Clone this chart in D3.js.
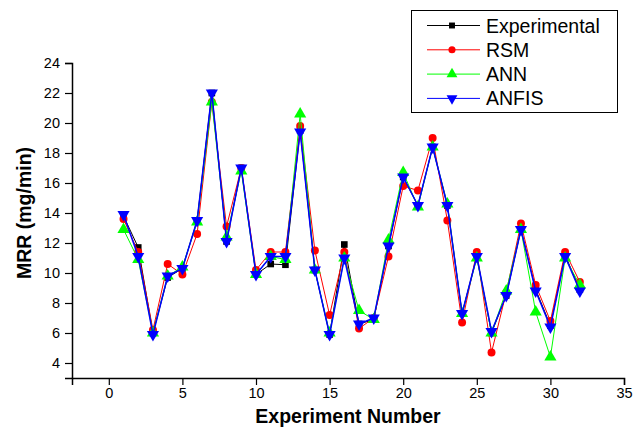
<!DOCTYPE html>
<html lang="en">
  <head>
    <meta charset="UTF-8" />
    <title>MRR vs Experiment Number</title>
    <style>
      html, body {
        margin: 0;
        background: #ffffff;
      }
      svg text {
        font-family: "Liberation Sans", Arial, sans-serif;
      }
    </style>
    <script src="https://cdn.jsdelivr.net/npm/d3@7"></script>
  </head>
  <body>
    <div id="chart"></div>
    <script>
      // experiment runs 1..32
      const runs = d3.range(1, 33);

      const experimental = [13.8, 11.7, 6.0, 9.7, 10.3, 13.5, 22.0, 12.1, 17.0, 9.9,
        10.6, 10.55, 19.5, 10.2, 5.9, 11.9, 6.6, 6.9, 11.8, 16.4,
        14.5, 18.4, 14.5, 7.3, 11.1, 6.0, 8.5, 12.9, 8.9, 6.5, 11.2, 8.9];
      const rsm = [13.6, 11.4, 6.2, 10.6, 9.9, 12.6, 21.4, 13.1, 17.0, 10.2,
        11.4, 11.4, 19.8, 11.5, 7.2, 11.4, 6.3, 7.0, 11.1, 15.8,
        15.5, 19.0, 13.5, 6.7, 11.4, 4.7, 8.7, 13.3, 9.2, 6.8, 11.4, 9.4];
      const ann = [12.9, 10.9, 6.0, 9.8, 10.4, 13.4, 21.4, 12.4, 16.8, 9.9,
        11.1, 10.9, 20.6, 10.2, 6.0, 11.0, 7.5, 6.9, 12.2, 16.7,
        14.4, 18.4, 14.6, 7.3, 11.0, 6.0, 8.8, 12.9, 7.4, 4.4, 11.0, 9.2];
      const anfis = [13.9, 11.1, 5.9, 9.8, 10.3, 13.5, 22.0, 12.1, 17.0, 9.9,
        11.1, 11.1, 19.4, 10.2, 5.9, 11.0, 6.6, 7.0, 11.8, 16.4,
        14.5, 18.4, 14.5, 7.3, 11.1, 6.1, 8.5, 12.9, 8.8, 6.4, 11.1, 8.8];

      const seriesNames = ["Experimental", "RSM", "ANN", "ANFIS"];
      const xTicks = [0, 5, 10, 15, 20, 25, 30, 35];
      const yTicks = [4, 6, 8, 10, 12, 14, 16, 18, 20, 22, 24];

      const series = [
        { name: seriesNames[0], values: experimental, color: "#000000", symbol: d3.symbolSquare, size: 44, width: 1, rot: 0 },
        { name: seriesNames[1], values: rsm, color: "#ff0000", symbol: d3.symbolCircle, size: 50, width: 1, rot: 0 },
        { name: seriesNames[2], values: ann, color: "#00ff00", symbol: d3.symbolTriangle, size: 64, width: 1, rot: 0 },
        { name: seriesNames[3], values: anfis, color: "#0000ff", symbol: d3.symbolTriangle, size: 64, width: 1.5, rot: 180 },
      ];

      const width = 644, height = 427;
      const margin = { top: 63, right: 20, bottom: 49, left: 72 };

      const svg = d3.select("#chart").append("svg")
        .attr("width", width)
        .attr("height", height);

      const x = d3.scaleLinear().domain([-2.5, 35]).range([margin.left, width - margin.right]);
      const y = d3.scaleLinear().domain([3, 24]).range([height - margin.bottom, margin.top]);

      // minor ticks first, then major with labels
      const xAxisMinor = d3.axisBottom(x).tickValues(d3.range(-2.5, 35, 5)).tickSize(4).tickFormat("");
      const yAxisMinor = d3.axisLeft(y).tickValues(d3.range(3, 24, 2)).tickSize(4).tickFormat("");

      const gx = svg.append("g").attr("transform", `translate(0,${height - margin.bottom})`);
      gx.call(xAxisMinor);
      gx.call(d3.axisBottom(x).tickValues(xTicks).tickSize(7).tickPadding(3));

      const gy = svg.append("g").attr("transform", `translate(${margin.left},0)`);
      gy.call(yAxisMinor);
      gy.call(d3.axisLeft(y).tickValues(yTicks).tickSize(7).tickPadding(5));

      svg.selectAll(".domain").attr("stroke-width", 1.5).attr("stroke", "#000");
      svg.selectAll(".tick line").attr("stroke-width", 1.2).attr("stroke", "#000");
      svg.selectAll(".tick text")
        .attr("font-size", 14.5)
        .attr("fill", "#000")
        .style("font-family", '"Liberation Sans", Arial, sans-serif');

      // axis titles
      svg.append("text")
        .attr("x", (x(-2.5) + x(35)) / 2)
        .attr("y", 423)
        .attr("text-anchor", "middle")
        .attr("font-size", 19.5)
        .attr("font-weight", "bold")
        .text("Experiment Number");

      svg.append("text")
        .attr("transform", `translate(31,${y(14)}) rotate(-90)`)
        .attr("text-anchor", "middle")
        .attr("font-size", 19.5)
        .attr("font-weight", "bold")
        .text("MRR (mg/min)");

      const line = d3.line()
        .x((d, i) => x(runs[i]))
        .y(d => y(d));

      series.forEach(s => {
        const g = svg.append("g");
        g.append("path")
          .attr("d", line(s.values))
          .attr("fill", "none")
          .attr("stroke", s.color)
          .attr("stroke-width", s.width);
        g.selectAll("path.pt")
          .data(s.values)
          .join("path")
          .attr("class", "pt")
          .attr("d", d3.symbol(s.symbol, s.size))
          .attr("transform", (d, i) => `translate(${x(runs[i])},${y(d)}) rotate(${s.rot})`)
          .attr("fill", s.color);
      });

      // legend
      const legend = svg.append("g");
      legend.append("rect")
        .attr("x", 411.5).attr("y", 10.5)
        .attr("width", 206).attr("height", 102)
        .attr("fill", "#fff")
        .attr("stroke", "#000")
        .attr("stroke-width", 1);

      series.forEach((s, i) => {
        const ly = 25.5 + i * 24.3;
        legend.append("line")
          .attr("x1", 427).attr("x2", 480)
          .attr("y1", ly).attr("y2", ly)
          .attr("stroke", s.color)
          .attr("stroke-width", 1);
        legend.append("path")
          .attr("d", d3.symbol(s.symbol, s.size * 0.8))
          .attr("transform", `translate(452,${ly}) rotate(${s.rot})`)
          .attr("fill", s.color);
        legend.append("text")
          .attr("x", 486)
          .attr("y", ly)
          .attr("dy", "0.36em")
          .attr("font-size", 19.5)
          .text(s.name);
      });
    </script>
  </body>
</html>
